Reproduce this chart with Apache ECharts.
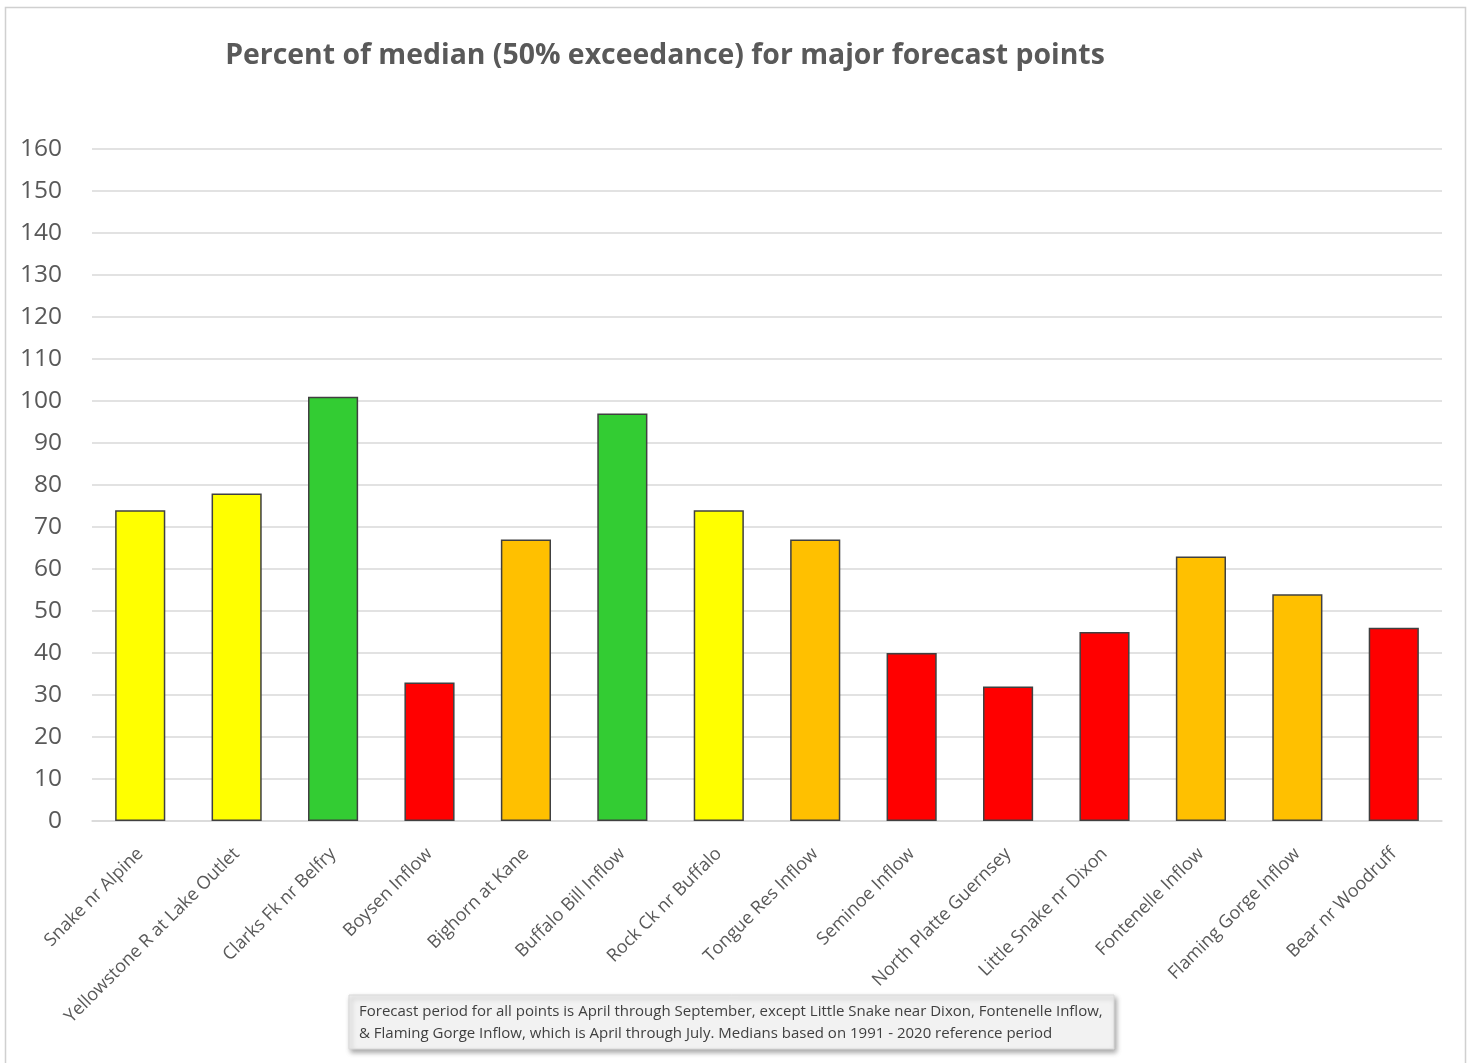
<!DOCTYPE html>
<html>
<head>
<meta charset="utf-8">
<script src="https://cdn.jsdelivr.net/npm/echarts@6/dist/echarts.min.js"></script>
<style>
  html, body { margin: 0; padding: 0; background: #ffffff; }
  #chart { width: 1473px; height: 1063px; }
</style>
</head>
<body>
<div id="chart"></div>
<script>
// Forecast points and their percent of median (50% exceedance)
const forecastPoints = [
  'Snake nr Alpine', 'Yellowstone R at Lake Outlet', 'Clarks Fk nr Belfry', 'Boysen Inflow',
  'Bighorn at Kane', 'Buffalo Bill Inflow', 'Rock Ck nr Buffalo', 'Tongue Res Inflow',
  'Seminoe Inflow', 'North Platte Guernsey', 'Little Snake nr Dixon', 'Fontenelle Inflow',
  'Flaming Gorge Inflow', 'Bear nr Woodruff'
];
const percentOfMedian = [74, 78, 101, 33, 67, 97, 74, 67, 40, 32, 45, 63, 54, 46];
const yTicks = [0, 10, 20, 30, 40, 50, 60, 70, 80, 90, 100, 110, 120, 130, 140, 150, 160];

const chartTitle = 'Percent of median (50% exceedance) for major forecast points';
const noteLines = [
  'Forecast period for all points is April through September, except Little Snake near Dixon, Fontenelle Inflow,',
  '& Flaming Gorge Inflow, which is April through July. Medians based on 1991 - 2020 reference period'
];

// colour class by percent of median
function classColor(v) {
  if (v >= 90) return '#33cc33';
  if (v >= 70) return '#ffff00';
  if (v >= 50) return '#ffc000';
  return '#ff0000';
}

const FONT = '"Open Sans", Lato, sans-serif';
const chart = echarts.init(document.getElementById('chart'), null, { renderer: 'canvas' });

chart.setOption({
  backgroundColor: '#ffffff',
  animation: false,
  title: {
    text: chartTitle,
    left: 660,
    top: 37,
    textAlign: 'center',
    textStyle: { fontFamily: FONT, fontSize: 28.4, fontWeight: 'bold', color: '#595959' }
  },
  grid: { left: 92, right: 31, top: 149, bottom: 242, containLabel: false },
  xAxis: {
    type: 'category',
    data: forecastPoints,
    axisLine: { lineStyle: { color: '#d9d9d9', width: 1.5 } },
    axisTick: { show: false },
    axisLabel: {
      interval: 0,
      rotate: 45,
      margin: 30,
      fontFamily: FONT,
      fontSize: 18,
      color: '#595959'
    }
  },
  yAxis: {
    type: 'value',
    min: yTicks[0],
    max: yTicks[yTicks.length - 1],
    interval: yTicks[1] - yTicks[0],
    axisLine: { show: false },
    axisTick: { show: false },
    axisLabel: { margin: 30, fontFamily: FONT, fontSize: 24.5, color: '#595959' },
    splitLine: { lineStyle: { color: '#d9d9d9', width: 1.5 } }
  },
  series: [{
    type: 'bar',
    barWidth: '52%',
    data: percentOfMedian.map(v => ({
      value: v,
      itemStyle: { color: classColor(v), borderColor: '#404040', borderWidth: 1.5 }
    }))
  }],
  graphic: [
    {
      type: 'rect',
      shape: { x: 5.5, y: 7.5, width: 1460, height: 1070 },
      style: { fill: 'none', stroke: '#d0d0d0', lineWidth: 1.5 },
      silent: true,
      z: -1
    },
    {
      type: 'rect',
      shape: { x: 349, y: 995, width: 765, height: 54 },
      style: {
        fill: '#f2f2f2', stroke: '#d9d9d9', lineWidth: 1,
        shadowBlur: 5, shadowOffsetX: 2, shadowOffsetY: 3, shadowColor: 'rgba(0,0,0,0.35)'
      },
      z: 10
    },
    {
      type: 'text',
      left: 359,
      top: 1001,
      style: {
        text: noteLines.join('\n'),
        fontFamily: FONT,
        fontSize: 15,
        lineHeight: 22,
        fill: '#404040'
      },
      z: 11
    }
  ]
});
</script>
</body>
</html>
